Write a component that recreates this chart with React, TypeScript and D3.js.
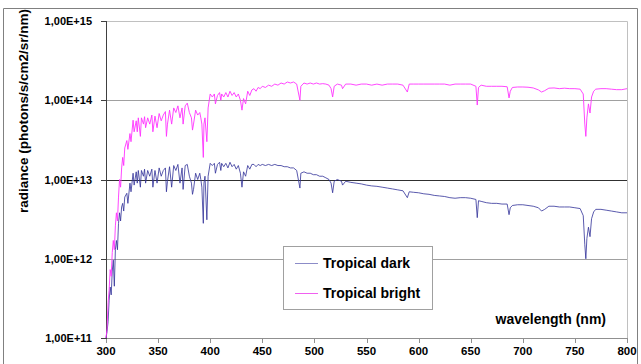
import React, { useEffect, useRef } from "react";
import * as d3 from "d3";

// wavelength grid (nm) shared by both spectra
const wavelengths = [
  300, 301, 302, 303, 304, 305, 306, 307, 308, 309,
  310, 311, 312, 313, 314, 315, 316, 317, 318, 320,
  321, 323, 324, 326, 327, 329, 330, 331, 333, 334,
  336, 337, 338, 340, 342, 344, 345, 347, 349, 351,
  353, 355, 357, 358, 359, 361, 363, 365, 367, 369,
  371, 373, 374, 376, 378, 380, 382, 383, 384, 386,
  388, 390, 391, 392, 393.4, 394, 395, 396.8, 398, 400,
  402, 404, 405, 407, 409, 410.2, 411, 413, 415, 417,
  419, 421, 423, 425, 427, 429, 430.5, 432, 434, 436,
  438, 440, 442, 444, 446, 448, 450, 453, 456, 459,
  462, 465, 468, 471, 474, 477, 480, 483, 486.1, 487,
  490, 493, 496, 499, 502, 505, 508, 511, 514, 516,
  517.5, 519, 522, 526, 527, 530, 535, 540, 545, 550,
  555, 560, 565, 570, 575, 580, 585, 589.2, 591, 595,
  600, 605, 610, 615, 620, 625, 630, 635, 640, 645,
  650, 655, 656.3, 657.5, 660, 665, 670, 675, 680, 685,
  686.8, 688, 690, 695, 700, 705, 710, 715, 718, 721,
  725, 730, 735, 740, 745, 750, 755, 758, 759.5, 760.5,
  761.5, 763, 764.5, 766, 768, 770, 775, 780, 785, 790,
  795, 800,
];

const tropicalBright = [
  1.0e11, 1.3e11, 2.8e11, 4.0e11, 7.3e11, 6.0e11, 1.2e12, 1.7e12, 1.3e12, 2.6e12,
  3.8e12, 3.0e12, 6.0e12, 1.0e13, 8.0e12, 1.4e13, 1.9e13, 1.5e13, 2.5e13, 3.1e13,
  2.4e13, 3.8e13, 3.0e13, 5.6e13, 4.0e13, 5.5e13, 4.0e13, 6.0e13, 3.5e13, 6.0e13,
  5.0e13, 6.2e13, 4.5e13, 6.0e13, 5.0e13, 6.5e13, 4.0e13, 6.3e13, 4.5e13, 6.8e13,
  5.5e13, 6.5e13, 7.2e13, 3.5e13, 5.0e13, 7.5e13, 5.0e13, 8.0e13, 7.0e13, 8.5e13,
  6.0e13, 8.0e13, 5.0e13, 8.5e13, 9.2e13, 7.0e13, 6.0e13, 4.2e13, 5.0e13, 7.5e13,
  6.5e13, 7.0e13, 6.0e13, 5.0e13, 1.9e13, 5.0e13, 6.0e13, 3.0e13, 8.0e13, 1.2e14,
  1.1e14, 1.2e14, 9.0e13, 1.15e14, 1.25e14, 1.0e14, 1.2e14, 1.1e14, 1.25e14, 1.1e14,
  1.3e14, 1.15e14, 1.25e14, 1.1e14, 1.2e14, 1.0e14, 7.5e13, 1.05e14, 9.0e13, 1.3e14,
  1.15e14, 1.35e14, 1.4e14, 1.3e14, 1.45e14, 1.4e14, 1.5e14, 1.45e14, 1.55e14, 1.5e14,
  1.6e14, 1.55e14, 1.65e14, 1.6e14, 1.7e14, 1.65e14, 1.7e14, 1.6e14, 1.0e14, 1.5e14,
  1.65e14, 1.6e14, 1.65e14, 1.6e14, 1.65e14, 1.6e14, 1.62e14, 1.6e14, 1.55e14, 1.4e14,
  1.1e14, 1.5e14, 1.6e14, 1.55e14, 1.4e14, 1.6e14, 1.6e14, 1.55e14, 1.6e14, 1.6e14,
  1.55e14, 1.6e14, 1.55e14, 1.6e14, 1.6e14, 1.6e14, 1.55e14, 1.27e14, 1.6e14, 1.6e14,
  1.6e14, 1.6e14, 1.6e14, 1.6e14, 1.6e14, 1.6e14, 1.55e14, 1.6e14, 1.6e14, 1.6e14,
  1.6e14, 1.5e14, 8.7e13, 1.45e14, 1.55e14, 1.5e14, 1.5e14, 1.5e14, 1.5e14, 1.48e14,
  1.07e14, 1.3e14, 1.45e14, 1.47e14, 1.47e14, 1.46e14, 1.43e14, 1.35e14, 1.27e14, 1.32e14,
  1.42e14, 1.43e14, 1.4e14, 1.42e14, 1.4e14, 1.4e14, 1.38e14, 1.2e14, 5.0e13, 3.5e13,
  6.0e13, 9.0e13, 6.9e13, 1.1e14, 1.3e14, 1.38e14, 1.4e14, 1.4e14, 1.38e14, 1.36e14,
  1.36e14, 1.4e14,
];

const tropicalDark = [
  1.0e11, 1.2e11, 1.6e11, 3.0e11, 4.4e11, 3.5e11, 7.0e11, 9.6e11, 4.5e11, 1.3e12,
  1.7e12, 1.3e12, 2.8e12, 3.8e12, 3.0e12, 4.5e12, 5.0e12, 4.0e12, 6.0e12, 6.7e12,
  5.0e12, 9.0e12, 7.0e12, 1.2e13, 8.5e12, 1.25e13, 9.0e12, 1.3e13, 8.0e12, 1.3e13,
  1.1e13, 1.35e13, 9.0e12, 1.3e13, 1.1e13, 1.35e13, 8.0e12, 1.3e13, 9.0e12, 1.4e13,
  1.1e13, 1.3e13, 1.4e13, 7.0e12, 9.5e12, 1.45e13, 8.0e12, 1.5e13, 1.3e13, 1.55e13,
  9.0e12, 1.4e13, 7.5e12, 1.5e13, 1.55e13, 1.1e13, 9.0e12, 6.5e12, 7.5e12, 1.2e13,
  1.0e13, 1.2e13, 1.0e13, 8.0e12, 2.8e12, 9.0e12, 1.1e13, 3.1e12, 1.1e13, 1.6e13,
  1.5e13, 1.6e13, 1.2e13, 1.55e13, 1.65e13, 1.3e13, 1.6e13, 1.45e13, 1.6e13, 1.4e13,
  1.65e13, 1.45e13, 1.55e13, 1.35e13, 1.5e13, 1.2e13, 8.0e12, 1.25e13, 1.1e13, 1.5e13,
  1.35e13, 1.55e13, 1.55e13, 1.45e13, 1.55e13, 1.5e13, 1.55e13, 1.5e13, 1.55e13, 1.5e13,
  1.55e13, 1.5e13, 1.5e13, 1.45e13, 1.45e13, 1.4e13, 1.4e13, 1.3e13, 7.8e12, 1.2e13,
  1.25e13, 1.2e13, 1.2e13, 1.15e13, 1.15e13, 1.1e13, 1.1e13, 1.05e13, 1.0e13, 9.0e12,
  6.8e12, 9.5e12, 1.0e13, 9.5e12, 8.5e12, 9.5e12, 9.2e12, 9.0e12, 8.8e12, 8.5e12,
  8.3e12, 8.2e12, 8.0e12, 7.8e12, 7.6e12, 7.4e12, 7.2e12, 5.9e12, 7.0e12, 6.9e12,
  6.8e12, 6.6e12, 6.5e12, 6.3e12, 6.2e12, 6.1e12, 5.9e12, 5.8e12, 5.9e12, 5.9e12,
  5.8e12, 5.6e12, 3.3e12, 5.4e12, 5.3e12, 5.1e12, 5.0e12, 5.0e12, 4.9e12, 4.9e12,
  3.6e12, 4.4e12, 4.7e12, 4.8e12, 4.8e12, 4.7e12, 4.6e12, 4.4e12, 4.0e12, 4.2e12,
  4.6e12, 4.6e12, 4.5e12, 4.5e12, 4.5e12, 4.4e12, 4.3e12, 3.5e12, 1.5e12, 1.0e12,
  1.8e12, 2.5e12, 1.9e12, 3.2e12, 3.9e12, 4.2e12, 4.2e12, 4.1e12, 4.0e12, 3.9e12,
  3.8e12, 3.8e12,
];

const xTicks = [300, 350, 400, 450, 500, 550, 600, 650, 700, 750, 800];
const yTicks = [1e11, 1e12, 1e13, 1e14, 1e15];
const yTickLabels = ["1,00E+11", "1,00E+12", "1,00E+13", "1,00E+14", "1,00E+15"];
const seriesNames = ["Tropical dark", "Tropical bright"];

const FONT = "'Liberation Sans', Arial, sans-serif";

const App: React.FC = () => {
  const svgRef = useRef<SVGSVGElement | null>(null);

  useEffect(() => {
    const width = 641;
    const height = 364;
    const left = 106;
    const right = 627;
    const top = 21;
    const bottom = 338;

    const x = d3.scaleLinear().domain([300, 800]).range([left, right]);
    const y = d3.scaleLog().domain([1e11, 1e15]).range([bottom, top]);

    const svg = d3.select(svgRef.current);
    svg.selectAll("*").remove();
    svg.attr("width", width).attr("height", height);

    svg.append("rect").attr("width", width).attr("height", height).attr("fill", "#fff");

    // chart frame
    svg
      .append("path")
      .attr("d", `M3.5,${height} V8.5 H637.5 V${height}`)
      .attr("fill", "none")
      .attr("stroke", "#808080")
      .attr("stroke-width", 1);

    // plot area border (top + right)
    svg
      .append("path")
      .attr("d", `M${left},${top + 0.5} H${right + 0.5} V${bottom}`)
      .attr("fill", "none")
      .attr("stroke", "#c0c0c0");

    // horizontal gridlines
    svg
      .selectAll(".grid")
      .data(yTicks.slice(1, 4))
      .enter()
      .append("line")
      .attr("x1", left)
      .attr("x2", right)
      .attr("y1", (d) => Math.round(y(d)) + 0.5)
      .attr("y2", (d) => Math.round(y(d)) + 0.5)
      .attr("stroke", (d) => (d === 1e13 ? "#303030" : "#a0a0a0"))
      .attr("stroke-width", 1);

    // bottom axis
    svg
      .append("line")
      .attr("x1", left)
      .attr("x2", right)
      .attr("y1", bottom + 0.5)
      .attr("y2", bottom + 0.5)
      .attr("stroke", "#909090");

    svg
      .selectAll(".xtick")
      .data(xTicks)
      .enter()
      .append("line")
      .attr("x1", (d) => Math.round(x(d)) + 0.5)
      .attr("x2", (d) => Math.round(x(d)) + 0.5)
      .attr("y1", bottom)
      .attr("y2", bottom + 5)
      .attr("stroke", "#909090");

    svg
      .selectAll(".xlabel")
      .data(xTicks)
      .enter()
      .append("text")
      .attr("x", (d) => x(d))
      .attr("y", 355)
      .attr("text-anchor", "middle")
      .style("font-family", FONT)
      .style("font-size", "11.5px")
      .style("font-weight", "bold")
      .text((d) => d);

    // left axis
    svg
      .append("line")
      .attr("x1", left + 0.5)
      .attr("x2", left + 0.5)
      .attr("y1", top)
      .attr("y2", bottom + 1)
      .attr("stroke", "#404040");

    svg
      .selectAll(".ytick")
      .data(yTicks)
      .enter()
      .append("line")
      .attr("x1", left - 5)
      .attr("x2", left)
      .attr("y1", (d) => Math.round(y(d)) + 0.5)
      .attr("y2", (d) => Math.round(y(d)) + 0.5)
      .attr("stroke", "#404040");

    svg
      .selectAll(".ylabel")
      .data(yTicks)
      .enter()
      .append("text")
      .attr("x", 92)
      .attr("y", (d) => y(d) + 4)
      .attr("text-anchor", "end")
      .style("font-family", FONT)
      .style("font-size", "11px")
      .style("font-weight", "bold")
      .text((d, i) => yTickLabels[i]);

    // axis titles
    svg
      .append("text")
      .attr("transform", "translate(28, 111) rotate(-90)")
      .attr("text-anchor", "middle")
      .style("font-family", FONT)
      .style("font-size", "13.5px")
      .style("font-weight", "bold")
      .text("radiance (photons/s/cm2/sr/nm)");

    svg
      .append("text")
      .attr("x", 606)
      .attr("y", 324)
      .attr("text-anchor", "end")
      .style("font-family", FONT)
      .style("font-size", "14px")
      .style("font-weight", "bold")
      .text("wavelength (nm)");

    // spectra
    const line = d3
      .line<number>()
      .x((d, i) => x(wavelengths[i]))
      .y((d) => y(d));

    svg
      .append("path")
      .datum(tropicalDark)
      .attr("d", line)
      .attr("fill", "none")
      .attr("stroke", "#333399")
      .attr("stroke-width", 0.9)
      .attr("stroke-opacity", 0.9);

    svg
      .append("path")
      .datum(tropicalBright)
      .attr("d", line)
      .attr("fill", "none")
      .attr("stroke", "#ff33ff")
      .attr("stroke-width", 0.9);

    // legend
    const legend = svg.append("g").attr("transform", "translate(283, 246)");
    legend
      .append("rect")
      .attr("x", 0.5)
      .attr("y", 0.5)
      .attr("width", 149)
      .attr("height", 63)
      .attr("fill", "#fff")
      .attr("stroke", "#a0a0a0");

    const legendColors = ["#8c8cc8", "#f060f0"];
    seriesNames.forEach((name, i) => {
      const ly = 17 + i * 30;
      legend
        .append("line")
        .attr("x1", 12)
        .attr("x2", 35)
        .attr("y1", ly + 0.5)
        .attr("y2", ly + 0.5)
        .attr("stroke", legendColors[i])
        .attr("stroke-width", 1);
      legend
        .append("text")
        .attr("x", 40)
        .attr("y", ly + 5)
        .style("font-family", FONT)
        .style("font-size", "14px")
        .style("font-weight", "bold")
        .style("fill", "#000")
        .text(name);
    });
  }, []);

  return (
    <div style={{ position: "absolute", left: 0, top: 0 }}>
      <svg ref={svgRef}></svg>
    </div>
  );
};

export default App;
